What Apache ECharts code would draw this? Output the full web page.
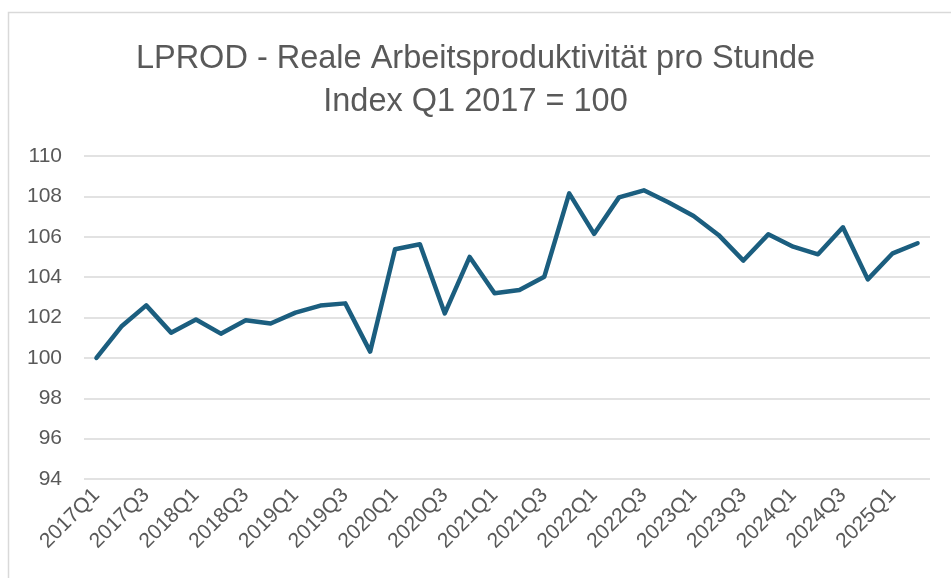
<!DOCTYPE html>
<html>
<head>
<meta charset="utf-8">
<script src="https://cdn.jsdelivr.net/npm/echarts@6/dist/echarts.min.js"></script>
<style>
html,body{margin:0;padding:0;background:#fff;}
#chart{width:951px;height:578px;}
</style>
</head>
<body>
<div id="chart"></div>
<script>
const titleLines = ['LPROD - Reale Arbeitsproduktivität pro Stunde', 'Index Q1 2017 = 100'];
const categories = [
  '2017Q1','2017Q2','2017Q3','2017Q4',
  '2018Q1','2018Q2','2018Q3','2018Q4',
  '2019Q1','2019Q2','2019Q3','2019Q4',
  '2020Q1','2020Q2','2020Q3','2020Q4',
  '2021Q1','2021Q2','2021Q3','2021Q4',
  '2022Q1','2022Q2','2022Q3','2022Q4',
  '2023Q1','2023Q2','2023Q3','2023Q4',
  '2024Q1','2024Q2','2024Q3','2024Q4',
  '2025Q1','2025Q2'
];
const values = [
  100.0, 101.55, 102.6, 101.25,
  101.9, 101.2, 101.86, 101.7,
  102.24, 102.59, 102.7, 100.31,
  105.38, 105.63, 102.2, 105.0,
  103.2, 103.36, 104.02, 108.15,
  106.14, 107.95, 108.3, 107.7,
  107.03, 106.09, 104.82, 106.12,
  105.51, 105.13, 106.47, 103.89,
  105.18, 105.68
];
const yMin = 94, yMax = 110, yStep = 2;

const chart = echarts.init(document.getElementById('chart'), null, {renderer: 'canvas'});
chart.setOption({
  backgroundColor: '#ffffff',
  animation: false,
  graphic: [{
    type: 'rect',
    shape: {x: 8.5, y: 12.5, width: 960, height: 620},
    style: {fill: 'none', stroke: '#d9d9d9', lineWidth: 1.5},
    silent: true
  }],
  title: {
    text: titleLines.join('\n'),
    left: 'center',
    top: 33,
    textStyle: {
      fontFamily: 'Liberation Sans',
      fontSize: 32.5,
      fontWeight: 'normal',
      color: '#595959',
      lineHeight: 43
    }
  },
  grid: {left: 84, right: 21, top: 156, bottom: 99, containLabel: false},
  xAxis: {
    type: 'category',
    data: categories,
    boundaryGap: true,
    axisLine: {show: false},
    axisTick: {show: false},
    axisLabel: {
      interval: 1,
      rotate: 45,
      margin: 13,
      color: '#595959',
      fontFamily: 'Liberation Sans',
      fontSize: 21
    },
    splitLine: {show: false}
  },
  yAxis: {
    type: 'value',
    min: yMin,
    max: yMax,
    interval: yStep,
    axisLine: {show: false},
    axisTick: {show: false},
    axisLabel: {
      margin: 22,
      color: '#595959',
      fontFamily: 'Liberation Sans',
      fontSize: 21
    },
    splitLine: {lineStyle: {color: '#d9d9d9', width: 1.5}}
  },
  series: [{
    type: 'line',
    data: values,
    symbol: 'none',
    lineStyle: {color: '#1b5e7f', width: 4.5, join: 'round', cap: 'round'},
    itemStyle: {color: '#1b5e7f'}
  }]
});
</script>
</body>
</html>
